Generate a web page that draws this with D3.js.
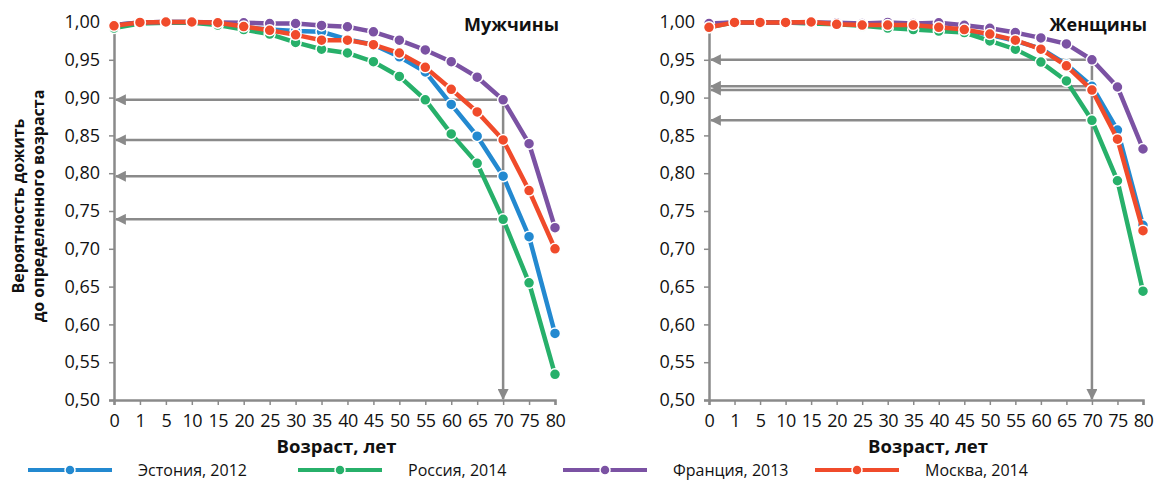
<!DOCTYPE html>
<html>
<head>
<meta charset="utf-8">
<script src="https://cdn.jsdelivr.net/npm/d3@7"></script>
<style>
  body { margin: 0; background: #fff; }
  text { font-family: "Open Sans", sans-serif; fill: #111; }
</style>
</head>
<body>
<script>
// возраст
const ages = ["0","1","5","10","15","20","25","30","35","40","45","50","55","60","65","70","75","80"];
const yTicks = [0.50,0.55,0.60,0.65,0.70,0.75,0.80,0.85,0.90,0.95,1.00];

// мужчины
const menEstonia = [0.996,0.9995,1.0,1.0,0.998,0.993,0.990,0.988,0.987,0.977,0.970,0.954,0.934,0.891,0.849,0.796,0.716,0.588];
const menRussia  = [0.992,0.998,0.999,0.999,0.996,0.990,0.984,0.973,0.964,0.959,0.9475,0.928,0.897,0.852,0.813,0.739,0.655,0.534];
const menFrance  = [0.996,0.9995,1.0,1.0,0.9995,0.999,0.998,0.998,0.9955,0.9937,0.987,0.976,0.963,0.9475,0.927,0.897,0.839,0.728];
const menMoscow  = [0.995,0.9995,1.0,1.0,0.999,0.994,0.989,0.983,0.976,0.976,0.970,0.959,0.940,0.911,0.881,0.844,0.777,0.700];

// женщины
const womenEstonia = [0.997,0.9995,0.9995,0.9995,0.999,0.998,0.997,0.995,0.994,0.992,0.989,0.983,0.975,0.965,0.944,0.915,0.857,0.731];
const womenRussia  = [0.993,0.9995,0.9995,0.9995,0.998,0.997,0.995,0.992,0.990,0.988,0.986,0.975,0.964,0.947,0.922,0.870,0.790,0.644];
const womenFrance  = [0.998,0.9995,0.9995,0.9995,0.9995,0.999,0.998,0.9995,0.998,0.999,0.9956,0.9917,0.986,0.979,0.971,0.950,0.914,0.832];
const womenMoscow  = [0.993,0.9995,0.9995,0.9995,1.0,0.997,0.996,0.996,0.996,0.993,0.990,0.984,0.976,0.964,0.942,0.910,0.845,0.724];

const seriesNames = ["Эстония, 2012","Россия, 2014","Франция, 2013","Москва, 2014"];
const colors = ["#2389d0","#27b06a","#7b52a3","#f04b2b"];
const gray = "#8a8a8a";

const svg = d3.select("body").append("svg")
    .attr("width", 1166)
    .attr("height", 482);

const defs = svg.append("defs");
defs.append("marker")
    .attr("id", "arrow")
    .attr("viewBox", "0 0 10 10")
    .attr("refX", 9).attr("refY", 5)
    .attr("markerWidth", 4.4).attr("markerHeight", 4.4)
    .attr("markerUnits", "strokeWidth")
    .attr("orient", "auto")
    .append("path")
    .attr("d", "M0,0L10,5L0,10z")
    .style("fill", gray);

function drawPanel(left, right, title, data) {
    var top = 22, bottom = 400;
    var x = d3.scalePoint().domain(ages).range([left, right]);
    var y = d3.scaleLinear().domain([0.5, 1]).range([bottom, top]);
    var g = svg.append("g");

    // стрелки от 70 лет
    var i70 = ages.indexOf("70");
    var topVal = d3.max(data, d => d[i70]);
    data.forEach(function(d) {
        g.append("line")
            .attr("x1", x("70")).attr("y1", y(d[i70]))
            .attr("x2", left + 2).attr("y2", y(d[i70]))
            .style("stroke", gray).style("stroke-width", 2.5)
            .attr("marker-end", "url(#arrow)");
    });
    g.append("line")
        .attr("x1", x("70")).attr("y1", y(topVal))
        .attr("x2", x("70")).attr("y2", bottom - 1)
        .style("stroke", gray).style("stroke-width", 2.5)
        .attr("marker-end", "url(#arrow)");

    // оси
    var yAxis = d3.axisLeft(y).tickValues(yTicks).tickSize(5).tickPadding(9)
        .tickFormat(d => d3.format(".2f")(d).replace(".", ","));
    var ya = g.append("g").attr("transform", "translate(" + left + ",0)").call(yAxis);
    var xAxis = d3.axisBottom(x).tickSize(5).tickPadding(7);
    var xa = g.append("g").attr("transform", "translate(0," + bottom + ")").call(xAxis);
    [ya, xa].forEach(function(a) {
        a.select(".domain").style("stroke", gray).style("stroke-width", 2.5);
        a.selectAll(".tick line").style("stroke", gray).style("stroke-width", 1.5);
        a.selectAll("text").style("font-size", "18px").style("fill", "#111")
            .style("font-family", "'Open Sans', sans-serif");
    });
    xa.selectAll(".tick text").attr("dy", "0.85em").style("letter-spacing", "-0.5px");

    var line = d3.line()
        .x((v, i) => x(ages[i]))
        .y(v => y(v));

    data.forEach(function(d, k) {
        g.append("path")
            .attr("d", line(d))
            .style("fill", "none")
            .style("stroke", colors[k])
            .style("stroke-width", 4.5);
        g.selectAll(".dot" + k)
            .data(d)
            .enter().append("circle")
            .attr("cx", (v, i) => x(ages[i]))
            .attr("cy", v => y(v))
            .attr("r", 5.5)
            .style("fill", colors[k])
            .style("stroke", "#fff")
            .style("stroke-width", 1.5);
    });

    g.append("text")
        .attr("x", right + 4)
        .attr("y", 31)
        .attr("text-anchor", "end")
        .style("font-size", "18px")
        .style("font-weight", "bold")
        .text(title);

    g.append("text")
        .attr("x", (left + right) / 2 + 2)
        .attr("y", 453)
        .attr("text-anchor", "middle")
        .style("font-size", "18.5px")
        .style("font-weight", "bold")
        .text("Возраст, лет");
}

drawPanel(114, 555, "Мужчины", [menEstonia, menRussia, menFrance, menMoscow]);
drawPanel(709, 1143, "Женщины", [womenEstonia, womenRussia, womenFrance, womenMoscow]);

// подпись оси Y
svg.append("text")
    .attr("transform", "translate(24,206) rotate(-90)")
    .attr("text-anchor", "middle")
    .style("font-size", "16px")
    .style("font-weight", "bold")
    .text("Вероятность дожить");
svg.append("text")
    .attr("transform", "translate(44,206) rotate(-90)")
    .attr("text-anchor", "middle")
    .style("font-size", "16px")
    .style("font-weight", "bold")
    .text("до определенного возраста");

// легенда
const legendX = [28, 298, 563, 815];
seriesNames.forEach(function(name, k) {
    var lg = svg.append("g").attr("transform", "translate(" + legendX[k] + ",470)");
    lg.append("line")
        .attr("x1", 0).attr("x2", 84).attr("y1", 0).attr("y2", 0)
        .style("stroke", colors[k]).style("stroke-width", 4);
    lg.append("circle")
        .attr("cx", 42).attr("cy", 0).attr("r", 5)
        .style("fill", colors[k]).style("stroke", "#fff").style("stroke-width", 1.5);
    lg.append("text")
        .attr("x", 110).attr("y", 6)
        .style("font-size", "16px")
        .text(name);
});
</script>
</body>
</html>
